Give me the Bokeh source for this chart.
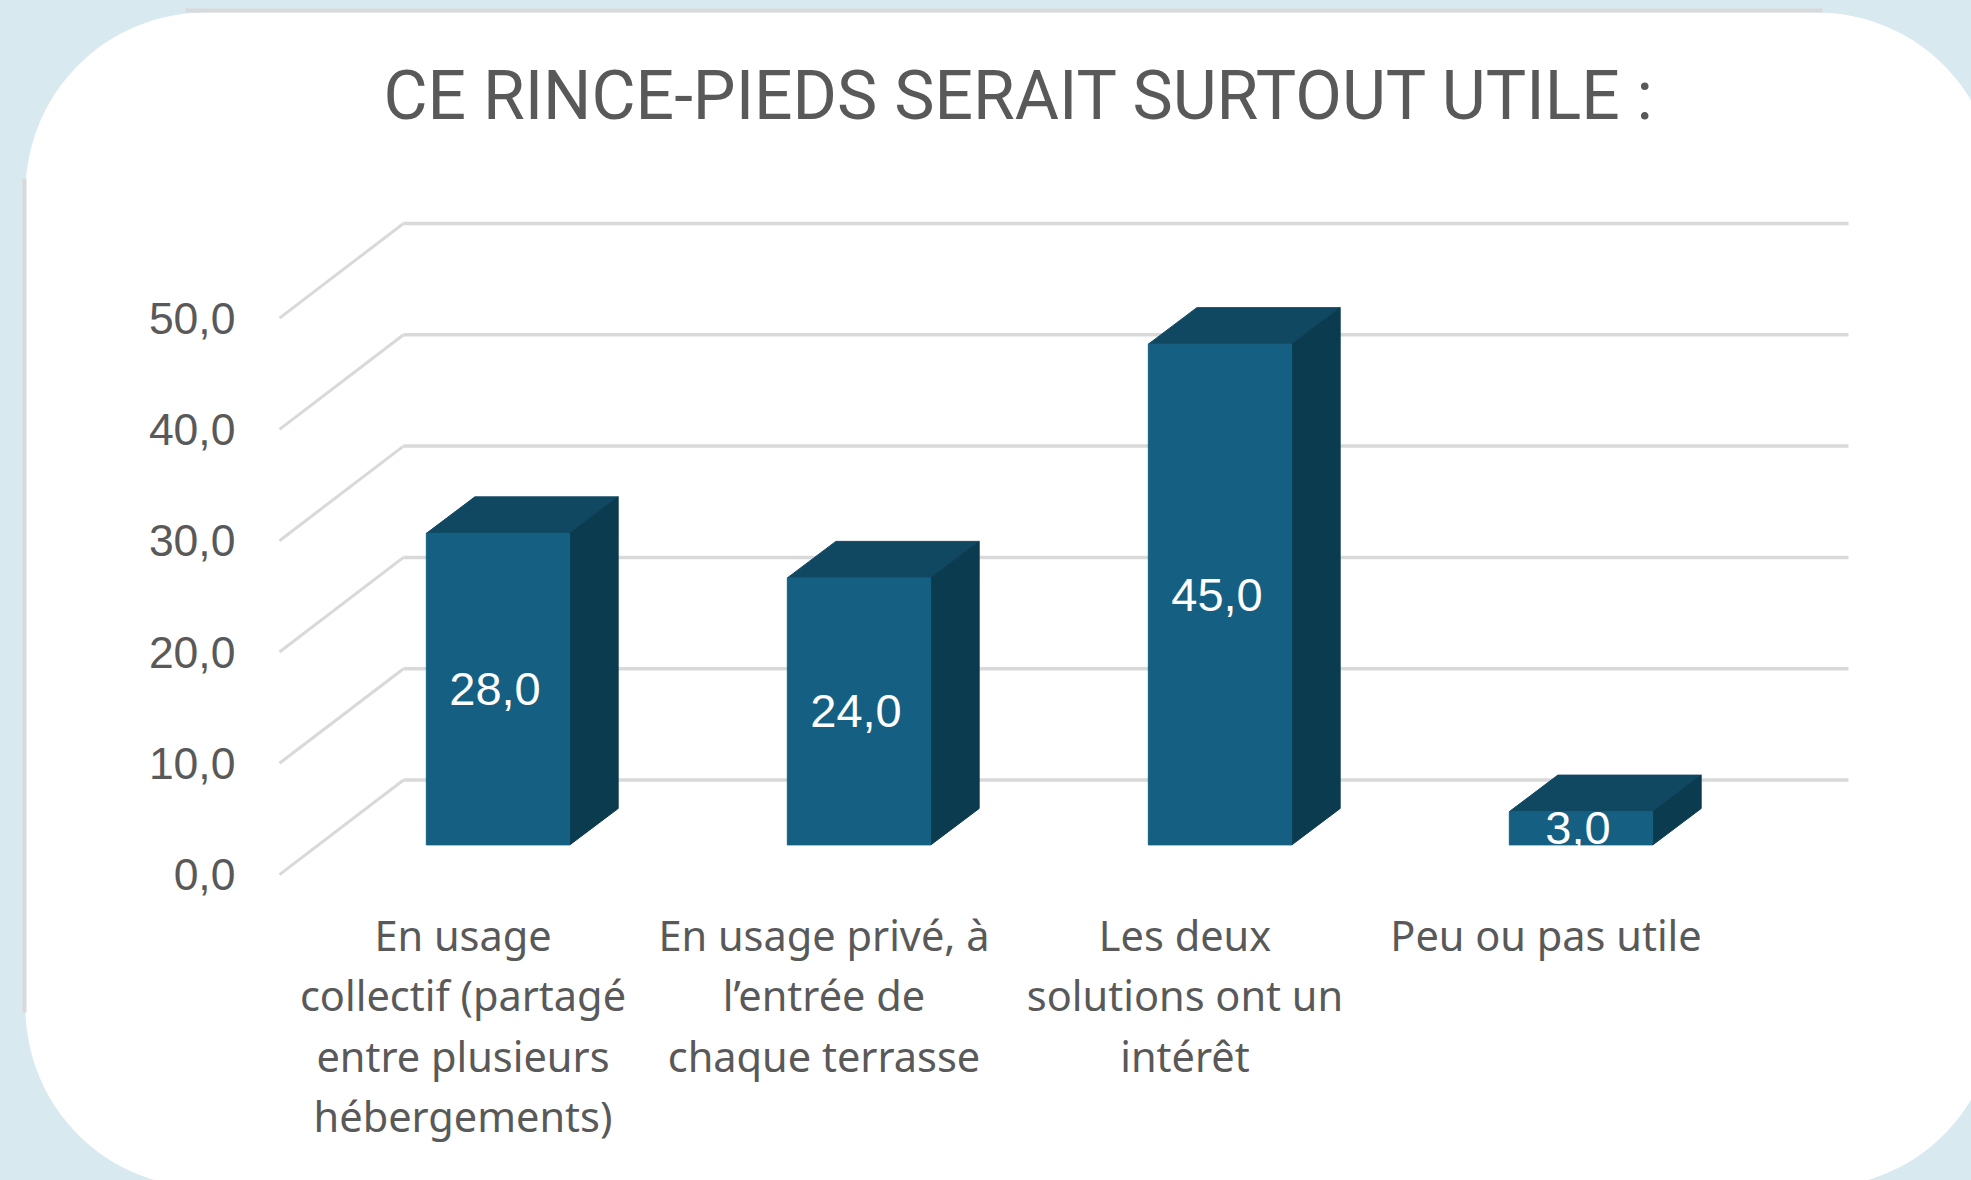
import numpy as np
from bokeh.plotting import figure
from bokeh.embed import file_html
from bokeh.resources import INLINE
from bokeh.core.properties import value
from bokeh.models import Range1d, LinearAxis, FixedTicker, GlobalInlineStyleSheet

# ---- data
categories = ["En usage\ncollectif (partagé\nentre plusieurs\nhébergements)",
              "En usage privé, à\nl’entrée de\nchaque terrasse",
              "Les deux\nsolutions ont un\nintérêt",
              "Peu ou pas utile"]
values = [28.0, 24.0, 45.0, 3.0]
value_labels = ["28,0", "24,0", "45,0", "3,0"]
grid_values = [0, 10, 20, 30, 40, 50]
grid_labels = {0: "0,0", 10: "10,0", 20: "20,0", 30: "30,0", 40: "40,0", 50: "50,0"}
title_text = "CE RINCE-PIEDS SERAIT SURTOUT UTILE :"

# ---- page geometry: page pixels <-> data
BG = "#d8e9f0"; GRID = "#d9d9d9"; TEXT = "#595959"
FRONT = "#156082"; TOP = "#104862"; SIDE = "#0b3b4f"
W, H = 1971, 1180
X0, DX = 497.5, 361.0     # page x of category 0 centre, px per category
Y0, DY = 844.5, 11.13     # page y of value 0 (front of bars), px per unit
def fx(px): return (np.asarray(px, dtype=float) - X0) / DX
def fy(py): return (Y0 - np.asarray(py, dtype=float)) / DY

p = figure(width=W, height=H, output_backend="svg", toolbar_location=None,
           x_range=Range1d(float(fx(0)), float(fx(W))),
           y_range=Range1d(float(fy(H)), float(fy(0))),
           x_axis_type=None, y_axis_type=None,
           min_border=0, min_border_left=0, min_border_right=0, min_border_top=0, min_border_bottom=0,
           background_fill_color=BG, border_fill_color=BG, outline_line_color=None)
p.xgrid.visible = False
p.ygrid.visible = False
p.stylesheets = [GlobalInlineStyleSheet(css=f"html,body{{background:{BG};overflow:hidden;}}")]

# ---- white rounded card
L, T, R, B, RAD = 25, 12, 1996, 1187, 180
def arc(cx, cy, a0, a1):
    t = np.radians(np.linspace(a0, a1, 40))
    return cx + RAD * np.cos(t), cy + RAD * np.sin(t)
parts = [arc(L + RAD, T + RAD, 180, 270), arc(R - RAD, T + RAD, 270, 360),
         arc(R - RAD, B - RAD, 0, 90), arc(L + RAD, B - RAD, 90, 180)]
p.patch(fx(np.concatenate([a[0] for a in parts])), fy(np.concatenate([a[1] for a in parts])),
        fill_color="white", line_color=None)
p.segment(fx([185]), fy([10]), fx([1822]), fy([10]), line_color=GRID, line_width=4)
p.segment(fx([24]), fy([178]), fx([24]), fy([1012]), line_color=GRID, line_width=4)

# ---- 3D gridlines
BACK_X, RIGHT_X, FRONT_X = float(fx(403)), float(fx(1848)), float(fx(279))
BACK_OFF, FRONT_OFF = 5.84, -2.66
gv = np.array(grid_values, dtype=float)
p.segment([BACK_X] * 6, gv + BACK_OFF, [RIGHT_X] * 6, gv + BACK_OFF, line_color=GRID, line_width=3.5)
p.segment([FRONT_X] * 6, gv + FRONT_OFF, [BACK_X] * 6, gv + BACK_OFF, line_color=GRID, line_width=3)

# ---- 3D bars
xc = np.arange(len(values), dtype=float)
v = np.array(values)
BW, DEPTH_X, DEPTH_Y = 0.397, 48.5 / DX, 36.5 / DY
xl, xr = xc - BW / 2, xc + BW / 2
p.patches([[a, b, b + DEPTH_X, a + DEPTH_X] for a, b in zip(xl, xr)],
          [[t, t, t + DEPTH_Y, t + DEPTH_Y] for t in v],
          fill_color=TOP, line_color=TOP, line_width=1)
p.patches([[b, b + DEPTH_X, b + DEPTH_X, b] for b in xr],
          [[0, DEPTH_Y, t + DEPTH_Y, t] for t in v],
          fill_color=SIDE, line_color=SIDE, line_width=1)
p.vbar(x=xc, top=v, bottom=0, width=BW, fill_color=FRONT, line_color=FRONT, line_width=1)

# ---- value labels (the reference clips them at the bar foot)
p.text(x=xc - 3 / DX, y=v / 2, text=value_labels, text_color="white",
       text_font=value("Liberation Sans"), text_font_size="47px",
       text_align="center", text_baseline="middle")
p.quad(left=xl - 0.01, right=xr + 0.01, bottom=-2.2, top=-0.06, fill_color="white", line_color=None)

# ---- title
p.text(x=[float(fx(1019))], y=[float(fy(95))], text=[title_text], text_color=TEXT,
       text_font=value("Roboto"), text_font_size="67.8px", text_align="center", text_baseline="middle")

# ---- y axis on the front edge of the floor
p.extra_y_ranges["front"] = Range1d(p.y_range.start - FRONT_OFF, p.y_range.end - FRONT_OFF)
ya = LinearAxis(y_range_name="front", ticker=FixedTicker(ticks=grid_values),
                major_label_overrides=grid_labels, major_label_standoff=0,
                major_tick_line_color=None, minor_tick_line_color=None, axis_line_color=None,
                major_label_text_font="Liberation Sans", major_label_text_font_size="44.5px",
                major_label_text_color=TEXT, fixed_location=float(fx(241)))
p.add_layout(ya, "left")

# ---- category axis
p.extra_x_ranges["cat"] = Range1d(p.x_range.start + 35 / DX, p.x_range.end + 35 / DX)
xa = LinearAxis(x_range_name="cat", ticker=FixedTicker(ticks=[0, 1, 2, 3]),
                major_label_overrides={i: c for i, c in enumerate(categories)},
                major_label_standoff=0, major_tick_line_color=None, minor_tick_line_color=None,
                axis_line_color=None, major_label_text_font="Noto Sans",
                major_label_text_font_size="41.5px", major_label_text_color=TEXT,
                major_label_text_line_height=1.08, fixed_location=float(fy(900.5)))
p.add_layout(xa, "below")

open("out.html", "w").write(file_html(p, INLINE))
